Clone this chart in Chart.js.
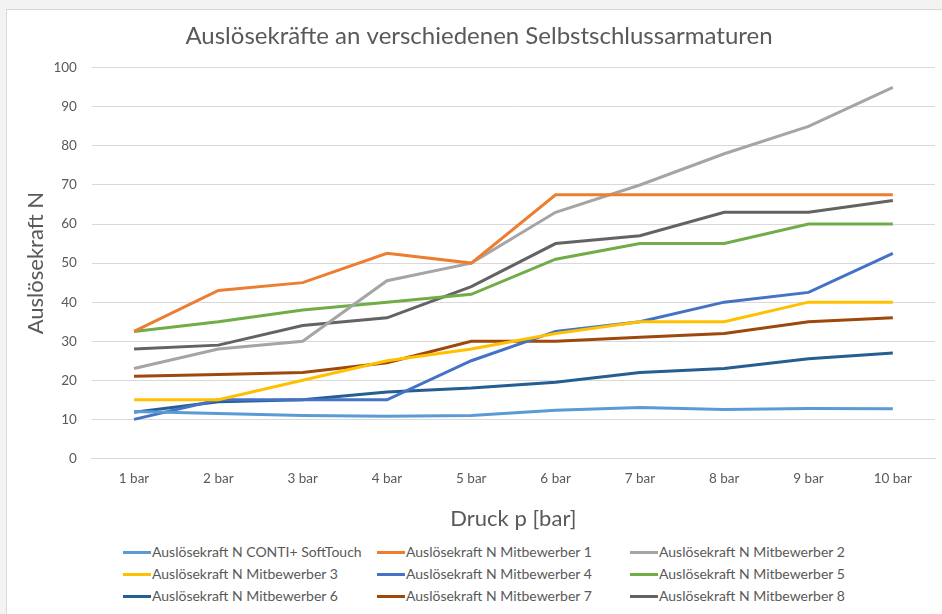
<!DOCTYPE html>
<html>
<head>
<meta charset="utf-8">
<script src="https://cdn.jsdelivr.net/npm/chart.js@4.4.1/dist/chart.umd.min.js"></script>
<style>
  html, body { margin: 0; padding: 0; }
  body { width: 942px; height: 614px; background: #f3f3f3; position: relative; overflow: hidden; font-family: Lato, sans-serif; }
  #card { position: absolute; left: 6px; top: 9px; width: 950px; height: 620px; background: #fff; border: 1px solid #d9d9d9; }
  #wrap { position: absolute; left: 0; top: 0; width: 942px; height: 540px; }
  #legend { position: absolute; left: 0; top: 541px; width: 942px; }
  .item { position: absolute; height: 22px; line-height: 22px; font-size: 14px; color: #595959; white-space: nowrap; }
  .item span.mark { display: inline-block; width: 28px; height: 3px; vertical-align: middle; margin-right: 1px; position: relative; top: -1px; }
</style>
</head>
<body>
<div id="card"></div>
<div id="wrap"><canvas id="chart"></canvas></div>
<div id="legend"></div>
<script>
const categories = ['1 bar', '2 bar', '3 bar', '4 bar', '5 bar', '6 bar', '7 bar', '8 bar', '9 bar', '10 bar'];
const seriesNames = [
  'Auslösekraft N CONTI+ SoftTouch',
  'Auslösekraft N Mitbewerber 1',
  'Auslösekraft N Mitbewerber 2',
  'Auslösekraft N Mitbewerber 3',
  'Auslösekraft N Mitbewerber 4',
  'Auslösekraft N Mitbewerber 5',
  'Auslösekraft N Mitbewerber 6',
  'Auslösekraft N Mitbewerber 7',
  'Auslösekraft N Mitbewerber 8'
];
const conti = [12, 11.5, 11, 10.8, 11, 12.3, 13, 12.5, 12.8, 12.7];
const mitbewerber1 = [32.5, 43, 45, 52.5, 50, 67.5, 67.5, 67.5, 67.5, 67.5];
const mitbewerber2 = [23, 28, 30, 45.5, 50, 63, 70, 78, 85, 95];
const mitbewerber3 = [15, 15, 20, 25, 28, 32, 35, 35, 40, 40];
const mitbewerber4 = [10, 15, 15, 15, 25, 32.5, 35, 40, 42.5, 52.5];
const mitbewerber5 = [32.5, 35, 38, 40, 42, 51, 55, 55, 60, 60];
const mitbewerber6 = [11.8, 14.5, 15, 17, 18, 19.5, 22, 23, 25.5, 27];
const mitbewerber7 = [21, 21.5, 22, 24.5, 30, 30, 31, 32, 35, 36];
const mitbewerber8 = [28, 29, 34, 36, 44, 55, 57, 63, 63, 66];
const yTicks = [0, 10, 20, 30, 40, 50, 60, 70, 80, 90, 100];

const colors = ['#5b9bd5', '#ed7d31', '#a5a5a5', '#ffc000', '#4472c4', '#70ad47', '#255e91', '#9e480e', '#636363'];
const seriesValues = [conti, mitbewerber1, mitbewerber2, mitbewerber3, mitbewerber4, mitbewerber5, mitbewerber6, mitbewerber7, mitbewerber8];

const grey = '#595959';
const fontFamily = 'Lato, sans-serif';

const datasets = seriesValues.map(function(values, i) {
  return {
    label: seriesNames[i],
    data: values,
    borderColor: colors[i],
    backgroundColor: colors[i],
    borderWidth: 3,
    pointRadius: 0,
    tension: 0,
    fill: false
  };
});

const chart = new Chart(document.getElementById('chart'), {
  type: 'line',
  data: { labels: categories, datasets: datasets },
  options: {
    responsive: true,
    maintainAspectRatio: false,
    animation: false,
    layout: { padding: { left: 23, right: 7, top: 0, bottom: 8 } },
    plugins: {
      legend: { display: false },
      tooltip: { enabled: false },
      title: {
        display: true,
        text: 'Auslösekräfte an verschiedenen Selbstschlussarmaturen',
        color: grey,
        font: { family: fontFamily, size: 24, weight: 'normal' },
        padding: { top: 22, bottom: 17 }
      }
    },
    scales: {
      x: {
        offset: true,
        grid: { display: false, drawTicks: false },
        border: { display: true, color: '#d9d9d9' },
        ticks: { color: grey, font: { family: fontFamily, size: 13.5 }, padding: 12, maxRotation: 0 },
        title: {
          display: true,
          text: 'Druck p [bar]',
          color: grey,
          font: { family: fontFamily, size: 22 },
          padding: { top: 7, bottom: 0 }
        }
      },
      y: {
        min: 0,
        max: 100,
        afterBuildTicks: function(scale) {
          scale.ticks = yTicks.map(function(v) { return { value: v }; });
        },
        grid: { color: '#d9d9d9', drawTicks: false },
        border: { display: false },
        ticks: { color: grey, font: { family: fontFamily, size: 13.5 }, padding: 15 },
        title: {
          display: true,
          text: 'Auslösekraft N',
          color: grey,
          font: { family: fontFamily, size: 22 },
          padding: { top: 0, bottom: -11 }
        }
      }
    }
  }
});

// legend in three columns like the original
const legendCols = [123, 377, 630];
const legendRows = [0, 22, 44];
const $legend = document.getElementById('legend');
chart.data.datasets.forEach(function(ds, i) {
  const item = document.createElement('div');
  item.className = 'item';
  item.style.left = legendCols[i % 3] + 'px';
  item.style.top = legendRows[Math.floor(i / 3)] + 'px';
  item.innerHTML = '<span class="mark" style="background:' + ds.borderColor + '"></span>' + ds.label;
  $legend.appendChild(item);
});
</script>
</body>
</html>
